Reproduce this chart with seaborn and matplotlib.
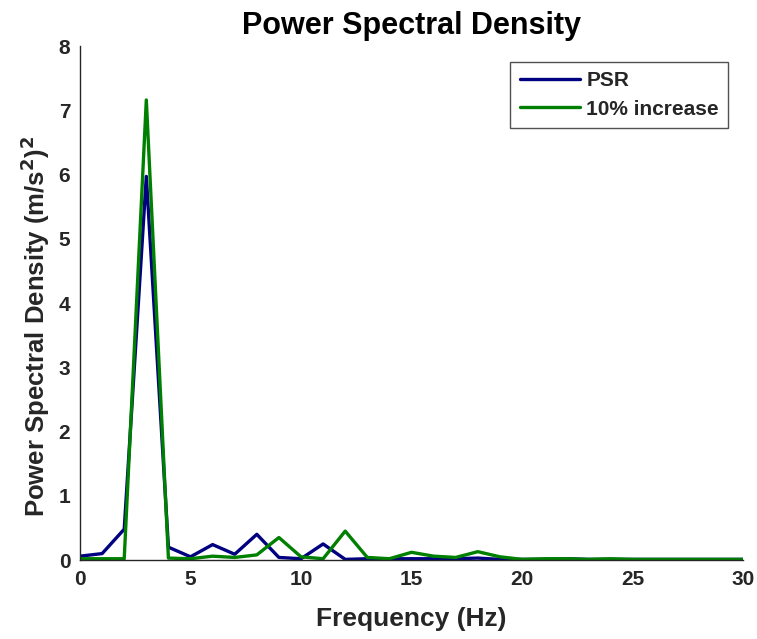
import numpy as np
import pandas as pd
import seaborn as sns
import matplotlib.pyplot as plt

# frequency bins (Hz) and PSD values
freq = list(range(31))
psd_psr = [0.06, 0.10, 0.48, 5.97, 0.20, 0.05, 0.24, 0.09, 0.40, 0.04,
           0.02, 0.25, 0.01, 0.02, 0.02, 0.02, 0.02, 0.02, 0.03, 0.01,
           0.01, 0.01, 0.02, 0.01, 0.01, 0.01, 0.01, 0.01, 0.01, 0.01, 0.01]
psd_inc = [0.02, 0.02, 0.02, 7.16, 0.03, 0.02, 0.06, 0.04, 0.08, 0.35,
           0.05, 0.02, 0.45, 0.04, 0.02, 0.12, 0.06, 0.04, 0.13, 0.05,
           0.01, 0.02, 0.02, 0.01, 0.02, 0.01, 0.01, 0.01, 0.01, 0.01, 0.01]
series = ['PSR', '10% increase']

data = pd.DataFrame({
    'freq': freq * 2,
    'psd': psd_psr + psd_inc,
    'source': [series[0]] * len(freq) + [series[1]] * len(freq),
})

sns.set_style('white')
plt.rcParams['font.family'] = ['Liberation Sans', 'DejaVu Sans']
plt.rcParams['font.weight'] = 'bold'
plt.rcParams['mathtext.default'] = 'bf'

fig = plt.figure(figsize=(7.57, 6.39), dpi=100)
ax = fig.add_axes([0.1057, 0.1236, 0.8758, 0.8044])

sns.lineplot(x='freq', y='psd', hue='source', data=data, ax=ax,
             palette={'PSR': '#000080', '10% increase': '#008000'},
             linewidth=2.4)

ax.set_xlim(0, 30)
ax.set_ylim(0, 8)
ax.set_xticks(range(0, 31, 5))
ax.set_yticks(range(0, 9))
for s in ['top', 'right']:
    ax.spines[s].set_visible(False)
for s in ['left', 'bottom']:
    ax.spines[s].set_color('#262626')
    ax.spines[s].set_linewidth(1.0)
ax.tick_params(direction='in', length=6, width=1, colors='#262626',
               labelsize=15, labelcolor='#262626', pad=7)
for lbl in ax.get_xticklabels() + ax.get_yticklabels():
    lbl.set_fontweight('bold')

ax.set_title('Power Spectral Density', fontsize=22, fontweight='bold',
             color='black', pad=9)
ax.set_xlabel('Frequency (Hz)', fontsize=19, fontweight='bold',
              color='#262626', labelpad=13)
ax.set_ylabel('Power Spectral Density (m/s$^2$)$^2$', fontsize=18.5,
              fontweight='bold', color='#262626')
ax.yaxis.set_label_coords(-0.043, 0.455)

leg = ax.legend(loc='upper right', bbox_to_anchor=(0.978, 0.969), fontsize=15,
                frameon=True, fancybox=False, edgecolor='#262626',
                handlelength=2.9, handletextpad=0.3, borderpad=0.45,
                labelspacing=0.45, borderaxespad=0)
leg.get_frame().set_linewidth(1.0)
for t in leg.get_texts():
    t.set_fontweight('bold')

fig.savefig('out.png', dpi=100)
